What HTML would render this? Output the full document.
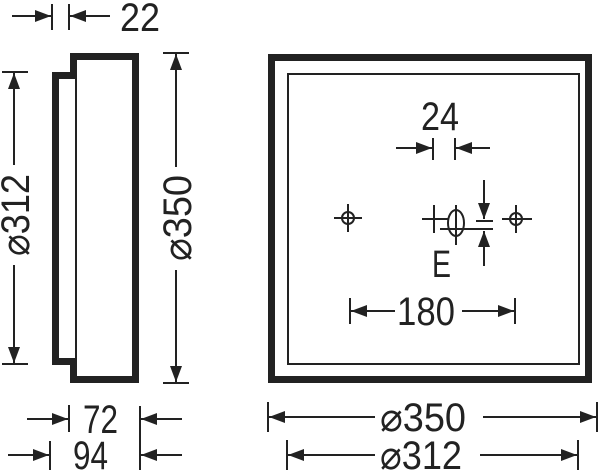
<!DOCTYPE html>
<html><head><style>
html,body{margin:0;padding:0;background:#fff;}
svg{display:block}
text{font-family:"Liberation Sans Narrow","Liberation Sans",sans-serif;fill:#222;}
</style></head><body>
<svg width="600" height="472" viewBox="0 0 600 472" xmlns="http://www.w3.org/2000/svg">
<defs>
<marker id="a" viewBox="0 0 16 12" refX="16" refY="6" markerWidth="16" markerHeight="12" markerUnits="userSpaceOnUse" orient="auto">
<path d="M0,0 L16,6 L0,12 Z" fill="#222"/>
</marker>
</defs>
<g stroke="#222" fill="none">
<path d="M73.5,75.5 V56.5 H135.5 V379.5 H73.5 V361.5 H55.5 V75.5 Z" stroke-width="7"/>
<line x1="76" y1="79" x2="76" y2="358" stroke-width="2"/>
<rect x="271.5" y="57.5" width="317" height="322" stroke-width="7"/>
<rect x="288" y="74" width="291" height="290" stroke-width="2"/>
</g>
<g stroke="#222" stroke-width="2" fill="none">
<line x1="12" y1="16" x2="51" y2="16" marker-end="url(#a)"/>
<line x1="52" y1="4" x2="52" y2="30"/>
<line x1="110" y1="16" x2="70" y2="16" marker-end="url(#a)"/>
<line x1="69" y1="4" x2="69" y2="30"/>
<line x1="2" y1="72" x2="28" y2="72"/>
<line x1="2" y1="364" x2="28" y2="364"/>
<line x1="14" y1="165" x2="14" y2="73" marker-end="url(#a)"/>
<line x1="14" y1="265" x2="14" y2="363" marker-end="url(#a)"/>
<line x1="163" y1="53" x2="189" y2="53"/>
<line x1="163" y1="383" x2="189" y2="383"/>
<line x1="176" y1="167" x2="176" y2="54" marker-end="url(#a)"/>
<line x1="176" y1="270" x2="176" y2="382" marker-end="url(#a)"/>
<line x1="27" y1="419" x2="68" y2="419" marker-end="url(#a)"/>
<line x1="69" y1="405" x2="69" y2="432"/>
<line x1="182" y1="419" x2="141" y2="419" marker-end="url(#a)"/>
<line x1="8" y1="455" x2="49" y2="455" marker-end="url(#a)"/>
<line x1="50" y1="441" x2="50" y2="470"/>
<line x1="182" y1="455" x2="141" y2="455" marker-end="url(#a)"/>
<line x1="140" y1="406" x2="140" y2="470"/>
<line x1="268" y1="402" x2="268" y2="432"/>
<line x1="597" y1="402" x2="597" y2="432"/>
<line x1="375" y1="417" x2="269" y2="417" marker-end="url(#a)"/>
<line x1="483" y1="417" x2="596" y2="417" marker-end="url(#a)"/>
<line x1="287" y1="440" x2="287" y2="470"/>
<line x1="578" y1="440" x2="578" y2="470"/>
<line x1="375" y1="455" x2="288" y2="455" marker-end="url(#a)"/>
<line x1="480" y1="455" x2="577" y2="455" marker-end="url(#a)"/>
<line x1="396" y1="148" x2="432" y2="148" marker-end="url(#a)"/>
<line x1="433" y1="138" x2="433" y2="160"/>
<line x1="490" y1="148" x2="456" y2="148" marker-end="url(#a)"/>
<line x1="455" y1="138" x2="455" y2="160"/>
<line x1="350" y1="298" x2="350" y2="324"/>
<line x1="395" y1="311" x2="351" y2="311" marker-end="url(#a)"/>
<line x1="462" y1="311" x2="514" y2="311" marker-end="url(#a)"/>
<line x1="515" y1="298" x2="515" y2="324"/>
<circle cx="348" cy="218" r="6"/>
<line x1="334" y1="218" x2="362" y2="218"/>
<line x1="348" y1="204" x2="348" y2="232"/>
<circle cx="516" cy="219" r="6"/>
<line x1="502" y1="219" x2="532" y2="219"/>
<line x1="516" y1="205" x2="516" y2="233"/>
<line x1="422" y1="219" x2="448" y2="219"/>
<line x1="434" y1="205" x2="434" y2="233"/>
<ellipse cx="456" cy="223" rx="8" ry="13"/>
<line x1="456" y1="205" x2="456" y2="245"/>
<line x1="440" y1="229" x2="493" y2="229"/>
<line x1="476" y1="221" x2="493" y2="221"/>
<line x1="484" y1="180" x2="484" y2="219" marker-end="url(#a)"/>
<line x1="484" y1="266" x2="484" y2="231" marker-end="url(#a)"/>
</g>
<g font-size="40">
<text x="120" y="31" textLength="40" lengthAdjust="spacingAndGlyphs">22</text>
<text x="83" y="433" textLength="35" lengthAdjust="spacingAndGlyphs">72</text>
<text x="73" y="469" textLength="35" lengthAdjust="spacingAndGlyphs">94</text>
<text x="421" y="130" textLength="38" lengthAdjust="spacingAndGlyphs">24</text>
<text x="397" y="325" textLength="58" lengthAdjust="spacingAndGlyphs">180</text>
<text x="380" y="431" textLength="86" lengthAdjust="spacingAndGlyphs">⌀350</text>
<text x="380" y="469" textLength="82" lengthAdjust="spacingAndGlyphs">⌀312</text>
<text x="432" y="277" font-size="38" textLength="19" lengthAdjust="spacingAndGlyphs">E</text>
<text transform="translate(29,256) rotate(-90)" textLength="82" lengthAdjust="spacingAndGlyphs">⌀312</text>
<text transform="translate(191,261) rotate(-90)" textLength="86" lengthAdjust="spacingAndGlyphs">⌀350</text>
</g>
</svg>
</body></html>
